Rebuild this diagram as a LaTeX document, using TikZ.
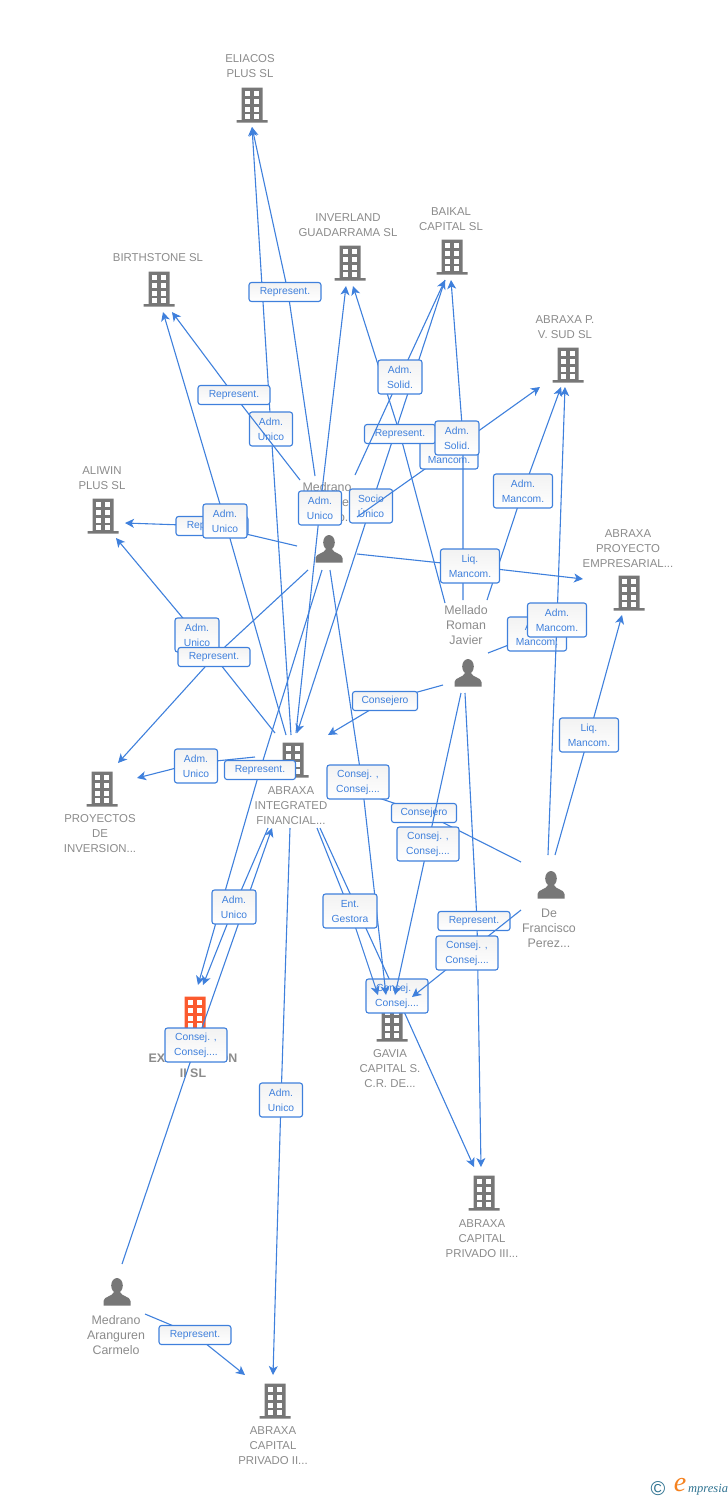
\documentclass[tikz,border=0pt]{standalone}
\usepackage{fontspec}
\setmainfont{Liberation Sans}
\newfontfamily\logofont{Liberation Serif}
\usetikzlibrary{arrows.meta,positioning}
\definecolor{linkblue}{HTML}{3F80DC}
\definecolor{iconmid}{HTML}{777777}
\definecolor{iconred}{HTML}{FB5A2E}
\definecolor{namegray}{HTML}{8B8B8B}
\definecolor{logoteal}{HTML}{2F7391}
\definecolor{logoorange}{HTML}{F58220}
\tikzset{
  company/.style={inner sep=0,minimum width=32,minimum height=35},
  person/.style={inner sep=0,minimum width=28,minimum height=28},
  coname/.style={text=namegray,align=center,inner sep=0,xshift=-2pt,font=\fontsize{11.4}{15}\selectfont},
  pername/.style={text=namegray,align=center,inner sep=0,xshift=-2pt,font=\fontsize{12.4}{15}\selectfont},
  link/.style={draw=linkblue,line width=1.1pt,-{Stealth[length=9pt,width=9pt,inset=2.5pt]}},
  rel/.style={draw=linkblue,line width=1.1pt,rounded corners=2.5pt,top color=black!5,bottom color=white,
    text=linkblue,align=center,inner sep=0,minimum width=#1,minimum height=34,font=\fontsize{10.3}{15}\selectfont},
  relone/.style={rel=#1,minimum height=19},
  pics/building/.style={code={
    \fill[#1] (-10.5,-17.5) rectangle (10.5,15) (-15.5,15) rectangle (15.5,17.5);
    \foreach \wx in {-7,2}
      \foreach \wy in {-14.5,-6.5,1.5,9}
        \fill[white] (\wx,\wy) rectangle ++(5,5);
  }},
  pics/bust/.style={code={
    \fill[iconmid] (0,-6.5) ellipse (5.8 and 7.5);
    \fill[iconmid] (-13.5,13.5) -- (-13.5,9) .. controls (-13,4) and (-5,5) .. (-3,0) -- (3,0)
      .. controls (5,5) and (13,4) .. (13.5,9) -- (13.5,13.5) -- cycle;
  }}
}
\begin{document}
\begin{tikzpicture}[x=1pt,y=-1pt]
\useasboundingbox (0,0) rectangle (728,1500);

% companies
\node (eliacos)    [company] at (252,105)  {};
\node (inverland)  [company] at (350,263)  {};
\node (baikal)     [company] at (452,257)  {};
\node (birthstone) [company] at (159,289)  {};
\node (sud)        [company] at (568,365)  {};
\node (aliwin)     [company] at (103,516)  {};
\node (proyecto)   [company] at (629,593)  {};
\node (proyectos)  [company] at (102,789)  {};
\node (integrated) [company] at (293,760)  {};
\node (explot)     [company] at (195,1014) {};
\node (gavia)      [company] at (392,1024) {};
\node (cpthree)    [company] at (484,1193) {};
\node (cptwo)      [company] at (275,1401) {};

\foreach \co in {eliacos,inverland,baikal,birthstone,sud,aliwin,proyecto,proyectos,integrated,gavia,cpthree,cptwo}
  \pic at (\co) {building=iconmid};
\pic at (explot) {building=iconred};

% persons
\node (medrano)   [person] at (329,549)  {};
\node (mellado)   [person] at (468,673)  {};
\node (francisco) [person] at (551,885)  {};
\node (carmelo)   [person] at (117,1292) {};

\foreach \pe in {medrano,mellado,francisco,carmelo}
  \pic at (\pe) {bust};

% names
\node (eliacosname)    [coname,above=9pt of eliacos]    {ELIACOS\\PLUS SL};
\node (inverlandname)  [coname,above=8pt of inverland]  {INVERLAND\\GUADARRAMA SL};
\node (baikalname)     [coname,above=8pt of baikal,xshift=1pt] {BAIKAL\\CAPITAL SL};
\node (birthstonename) [coname,above=9pt of birthstone,xshift=1pt] {BIRTHSTONE SL};
\node (sudname)        [coname,above=8pt of sud,xshift=-1pt] {ABRAXA P.\\V. SUD SL};
\node (aliwinname)     [coname,above=8pt of aliwin,xshift=1pt] {ALIWIN\\PLUS SL};
\node (proyectoname)   [coname,above=7pt of proyecto,xshift=1pt] {ABRAXA\\PROYECTO\\EMPRESARIAL...};
\node (proyectosname)  [coname,below=8pt of proyectos]  {PROYECTOS\\DE\\INVERSION...};
\node (integratedname) [coname,below=9pt of integrated] {ABRAXA\\INTEGRATED\\FINANCIAL...};
\node (explotname)     [coname,below=22pt of explot,font=\fontsize{12.4}{15}\selectfont\bfseries] {EXPLOTACION\\II SL};
\node (gavianame)      [coname,below=8pt of gavia]      {GAVIA\\CAPITAL S.\\C.R. DE...};
\node (cpthreename)    [coname,below=9pt of cpthree]    {ABRAXA\\CAPITAL\\PRIVADO III...};
\node (cptwoname)      [coname,below=8pt of cptwo]      {ABRAXA\\CAPITAL\\PRIVADO II...};
\node (medranoname)    [pername,above=13pt of medrano]  {Medrano\\Aranguren\\Gonzalo...};
\node (melladoname)    [pername,above=14pt of mellado]  {Mellado\\Roman\\Javier};
\node (francisconame)  [pername,below=10pt of francisco] {De\\Francisco\\Perez...};
\node (carmeloname)    [pername,below=9pt of carmelo,xshift=1pt] {Medrano\\Aranguren\\Carmelo};

% connectors, each one through its label
\draw[link] ([shift={(-2,-25)}]integrated.center) -- (271,429) node[rel=43] (eliacosadm) {Adm.\\Unico} -- ([shift={(0,22)}]eliacos.center);
\draw[link] ([shift={(-14,-73)}]medrano.center) -- (288,292) node[relone=72,xshift=-3pt] (eliacosrep) {Represent.} -- ([shift={(0,22)}]eliacos.center);
\draw[link] ([shift={(-29,-69)}]medrano.center) -- (234,395) node[relone=72] (birthrep) {Represent.} -- ([shift={(13,23)}]birthstone.center);
\draw[link] ([shift={(3,-27)}]integrated.center) -- (320,508) node[rel=43] (inverlandadm) {Adm.\\Unico} -- ([shift={(-4,23)}]inverland.center);
\draw[link] ([shift={(-7,23)}]baikal.center) -- (371,506) node[rel=43] (baikalsocio) {Socio\\Único} -- ([shift={(4,-27)}]integrated.center);
\draw[link] ([shift={(28,-32)}]medrano.center) -- (449,452) node[rel=58] (sudmanc) {Adm.\\Mancom.} -- ([shift={(-28,22)}]sud.center);
\draw[link] ([shift={(-23,-70)}]mellado.center) -- (400,434) node[relone=71] (inverlandrep) {Represent.} -- ([shift={(3,23)}]inverland.center);
\draw[link] ([shift={(26,-74)}]medrano.center) -- (400,377) node[rel=44] (baikalsolid) {Adm.\\Solid.} -- ([shift={(-7,23)}]baikal.center);
\draw[link] ([shift={(-5,-73)}]mellado.center) -- (463,438) node[rel=44,xshift=-6pt] (baikalsolidb) {Adm.\\Solid.} -- ([shift={(-1,23)}]baikal.center);
\draw[link] ([shift={(19,-73)}]mellado.center) -- (523,491) node[rel=59] (sudmancb) {Adm.\\Mancom.} -- ([shift={(-7,22)}]sud.center);
\draw[link] ([shift={(28,5)}]medrano.center) -- (470,566) node[rel=59] (proyectoliq) {Liq.\\Mancom.} -- ([shift={(-46,-14)}]proyecto.center);
\draw[link] ([shift={(-32,-3)}]medrano.center) -- (212,526) node[relone=72] (aliwinrep) {Represent.} -- ([shift={(22,7)}]aliwin.center);
\draw[link] ([shift={(-7,-25)}]integrated.center) -- (225,521) node[rel=44] (birthadm) {Adm.\\Unico} -- ([shift={(4,23)}]birthstone.center);
\draw[link] ([shift={(-18,-27)}]integrated.center) -- (197,635) node[rel=44] (aliwinadm) {Adm.\\Unico} -- ([shift={(13,22)}]aliwin.center);
\draw[link] ([shift={(-21,21)}]medrano.center) -- (214,657) node[relone=72] (proyectosrep) {Represent.} -- ([shift={(16,-26)}]proyectos.center);

\coordinate (mancomend) at (557,620);
\draw[draw=linkblue,line width=1.1pt] ([shift={(20,-20)}]mellado.center) -- (537,634) node[rel=59] (melladomanc) {Adm.\\Mancom.} -- (mancomend);
\draw[link] ([shift={(-3,-30)}]francisco.center) -- (mancomend) node[rel=59] (sudmancc) {Adm.\\Mancom.} -- ([shift={(-3,22)}]sud.center);
\draw[link] ([shift={(4,-30)}]francisco.center) -- (589,735) node[rel=59] (proyectoliqb) {Liq.\\Mancom.} -- ([shift={(-7,22)}]proyecto.center);
\draw[link] ([shift={(-25,12)}]mellado.center) -- (385,701) node[relone=65] (integratedcons) {Consejero} -- ([shift={(35,-25)}]integrated.center);

\draw[link] ([shift={(-38,-3)}]integrated.center) -- (196,763) node[rel=43,yshift=-3pt] (proyectosadm) {Adm.\\Unico} -- ([shift={(35,-11)}]proyectos.center);
\draw[link] ([shift={(-7,21)}]medrano.center) -- (260,770) node[relone=71] (explotrep) {Represent.} -- ([shift={(3,-29)}]explot.center);
\draw[link] ([shift={(-30,-23)}]francisco.center) -- (424,813) node[relone=65] (integratedconsb) {Consejero} -- ([shift={(34,21)}]integrated.center);
\draw[link] ([shift={(5,-28)}]carmelo.center) -- (196,1045) node[rel=62] (integratedconsej) {Consej. ,\\Consej....} -- ([shift={(-21,68)}]integrated.center);
\draw[link] ([shift={(-25,68)}]integrated.center) -- (234,907) node[rel=44] (explotadm) {Adm.\\Unico} -- ([shift={(8,-29)}]explot.center);
\draw[link] ([shift={(27,68)}]integrated.center) -- (397,996) node[rel=62] (cpthreeconsej) {Consej. ,\\Consej....} -- ([shift={(-10,-26)}]cpthree.center);
\draw[link] ([shift={(1,21)}]medrano.center) -- (362,782) node[rel=62,xshift=-4pt] (gaviaconsej) {Consej. ,\\Consej....} -- ([shift={(-6,-29)}]gavia.center);
\draw[link] ([shift={(24,68)}]integrated.center) -- (350,911) node[rel=54] (gaviaent) {Ent.\\Gestora} -- ([shift={(-14,-29)}]gavia.center);
\draw[link] ([shift={(-7,20)}]mellado.center) -- (428,844) node[rel=62] (gaviaconsejb) {Consej. ,\\Consej....} -- ([shift={(3,-29)}]gavia.center);
\draw[link] ([shift={(-3,20)}]mellado.center) -- (477,921) node[relone=72,xshift=-3pt] (cpthreerep) {Represent.} -- ([shift={(-3,-26)}]cpthree.center);
\draw[link] ([shift={(-30,25)}]francisco.center) -- (467,953) node[rel=62] (gaviaconsejc) {Consej. ,\\Consej....} -- ([shift={(20,-27)}]gavia.center);
\draw[link] ([shift={(-3,68)}]integrated.center) -- (281,1100) node[rel=43] (cptwoadm) {Adm.\\Unico} -- ([shift={(-2,-26)}]cptwo.center);
\draw[link] ([shift={(28,22)}]carmelo.center) -- (195,1335) node[relone=72] (cptworep) {Represent.} -- ([shift={(-30,-26)}]cptwo.center);

% logo
\node (logoc) [text=logoteal,inner sep=0,font=\fontsize{20}{20}\selectfont] at (658,1489) {©};
\node (logoe) [text=logoorange,inner sep=0,font=\fontsize{28}{28}\logofont\itshape] at (680,1485) {e};
\node (logotext) [text=logoteal,inner sep=0,anchor=west,font=\fontsize{12.5}{13}\logofont\itshape] at (688,1490) {mpresia};
\end{tikzpicture}
\end{document}
